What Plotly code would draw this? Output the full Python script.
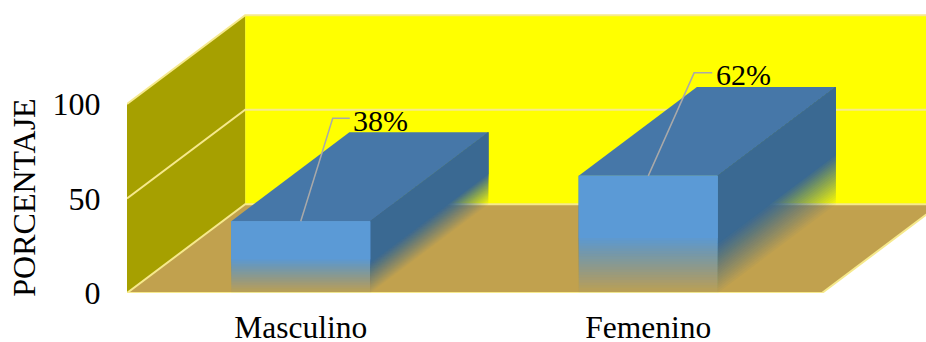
import plotly.graph_objects as go

# Chart values
categories = ["Masculino", "Femenino"]
percentages = [38, 62]
percent_labels = ["38%", "62%"]
y_ticks = [0, 50, 100]
y_title = "PORCENTAJE"

# Oblique box projection, in axis units
DEPTH_X = 0.34
DEPTH_Y = 47
BAR_WIDTH = 0.4
X_MAX = 2.0
X_RANGE = [0, 2.2993]
Y_RANGE = [0, 155.03]

# Callout offsets from each bar's front top edge
elbow_dx = [0.092, 0.132]
label_dx = [0.145, 0.188]
elbow_dy = 54.5
label_dy = 53.5

FONT = "Liberation Serif"
WALL = "#FFFF00"
SIDE_WALL = "#A6A000"
FLOOR = "#C1A14E"
GRID = "#F6E98C"
FRONT = (91, 154, 214)
TOP = (70, 119, 168)
SIDE = (58, 105, 146)

fig = go.Figure()


def polygon(xs, ys, color):
    fig.add_trace(go.Scatter(
        x=xs + xs[:1], y=ys + ys[:1], mode="lines", fill="toself",
        fillcolor=color, line=dict(width=0), hoverinfo="skip", showlegend=False,
    ))


def polyline(xs, ys, color, width):
    fig.add_trace(go.Scatter(
        x=xs, y=ys, mode="lines", line=dict(color=color, width=width),
        hoverinfo="skip", showlegend=False,
    ))


def faded_face(points_at, rgb, solid_from, steps=22):
    """Stack translucent layers so a face melts into whatever lies behind its base."""
    previous = 0.0
    for i in range(steps):
        level = solid_from * i / (steps - 1)
        target = (i + 1) / steps
        alpha = 1 - (1 - target) / (1 - previous)
        previous = target
        xs, ys = points_at(level)
        polygon(xs, ys, f"rgba({rgb[0]},{rgb[1]},{rgb[2]},{alpha:.4f})")


# Walls and floor
top_value = y_ticks[-1]
polygon([DEPTH_X, X_MAX + DEPTH_X, X_MAX + DEPTH_X, DEPTH_X],
        [DEPTH_Y, DEPTH_Y, top_value + DEPTH_Y, top_value + DEPTH_Y], WALL)
polygon([0, DEPTH_X, DEPTH_X, 0],
        [0, DEPTH_Y, top_value + DEPTH_Y, top_value], SIDE_WALL)
polygon([0, X_MAX, X_MAX + DEPTH_X, DEPTH_X], [0, 0, DEPTH_Y, DEPTH_Y], FLOOR)

# Gridlines wrap across the side wall and the back wall
for tick in y_ticks:
    polyline([0, DEPTH_X, X_MAX + DEPTH_X],
             [tick, tick + DEPTH_Y, tick + DEPTH_Y], GRID, 2)
polyline([0, X_MAX, X_MAX + DEPTH_X], [0, 0, DEPTH_Y], GRID, 2)

# Bars
for i, value in enumerate(percentages):
    centre = i + 0.5
    left, right = centre - BAR_WIDTH / 2, centre + BAR_WIDTH / 2

    polygon([left, right, right + DEPTH_X, left + DEPTH_X],
            [value, value, value + DEPTH_Y, value + DEPTH_Y],
            f"rgb{TOP}")

    def side_points(level, right=right, value=value):
        base = value * level
        return ([right, right + DEPTH_X, right + DEPTH_X, right],
                [base, base + DEPTH_Y, value + DEPTH_Y, value])

    def front_points(level, left=left, right=right, value=value):
        base = value * level
        return ([left, right, right, left], [base, base, value, value])

    faded_face(side_points, SIDE, 0.42)
    faded_face(front_points, FRONT, 0.47)

    # Callout
    polyline([centre, centre + elbow_dx[i], centre + label_dx[i] - 0.004],
             [value, value + elbow_dy, value + elbow_dy], "#A9A9A9", 1.5)
    fig.add_annotation(
        x=centre + label_dx[i], y=value + label_dy, text=percent_labels[i],
        xanchor="left", yanchor="middle", showarrow=False,
        font=dict(family=FONT, size=30, color="black"),
    )

fig.add_annotation(
    xref="paper", yref="y", x=-0.13, y=50.5, text=y_title, textangle=-90,
    showarrow=False, xanchor="center", yanchor="middle",
    font=dict(family=FONT, size=32, color="black"),
)

fig.update_layout(
    width=926, height=342, autosize=False,
    margin=dict(l=127, r=0, t=0, b=49, pad=0, autoexpand=False),
    paper_bgcolor="white", plot_bgcolor="white", showlegend=False,
    hovermode=False,
    xaxis=dict(
        range=X_RANGE, tickmode="array", automargin=False,
        tickvals=[i + 0.5 for i in range(len(categories))], ticktext=categories,
        showgrid=False, zeroline=False, showline=False,
        ticks="outside", ticklen=6, tickcolor="rgba(0,0,0,0)",
        tickfont=dict(family=FONT, size=31.5, color="black"),
    ),
    yaxis=dict(
        range=Y_RANGE, tickmode="array", tickvals=y_ticks, automargin=False,
        showgrid=False, zeroline=False, showline=False,
        ticks="outside", ticklen=19, tickcolor="rgba(0,0,0,0)",
        tickfont=dict(family=FONT, size=32, color="black"),
    ),
)

fig.write_html("out.html", config=dict(displayModeBar=False))
